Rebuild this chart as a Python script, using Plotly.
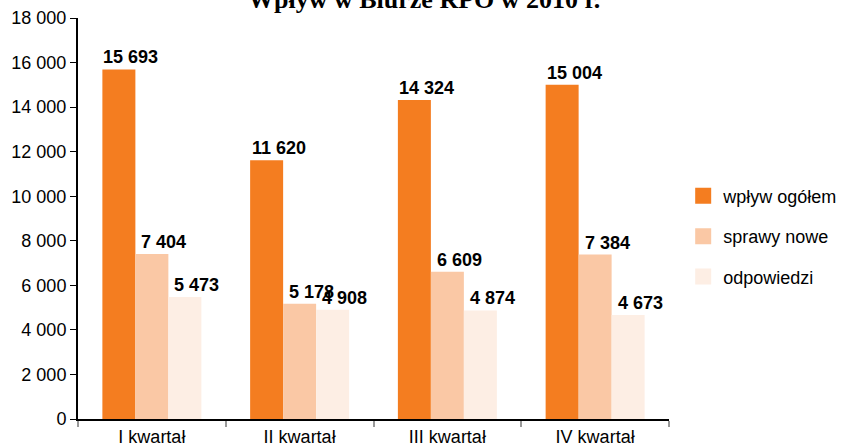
import plotly.graph_objects as go

categories = ["I kwartał", "II kwartał", "III kwartał", "IV kwartał"]
series_names = ["wpływ ogółem", "sprawy nowe", "odpowiedzi"]
wplyw = [15693, 11620, 14324, 15004]
sprawy = [7404, 5178, 6609, 7384]
odpowiedzi = [5473, 4908, 4874, 4673]
colors = ["#F47D20", "#FAC8A5", "#FDEEE4"]
title = "Wpływ w Biurze RPO w 2010 r."

FONT = "Liberation Sans, Arial, sans-serif"

def fmt(v):
    return f"{v:,}".replace(",", " ")

fig = go.Figure()
data = [wplyw, sprawy, odpowiedzi]
for name, vals, col in zip(series_names, data, colors):
    fig.add_trace(go.Bar(x=categories, y=vals, name=name, marker_color=col,
                         marker_line_width=0, showlegend=False))
# legend entries with larger square swatches
for name, col in zip(series_names, colors):
    fig.add_trace(go.Scatter(x=[None], y=[None], mode="markers", name=name,
                             marker=dict(symbol="square", size=16, color=col),
                             legendgroup=name))

shifts = [-21, 12, 45]
for i, vals in enumerate(data):
    for c, v in zip(categories, vals):
        fig.add_annotation(x=c, y=v, text=fmt(v), showarrow=False, xref="x", yref="y",
                           xanchor="center", yanchor="bottom", xshift=shifts[i], yshift=0,
                           font=dict(family=FONT, size=18, color="black", weight="bold"))

fig.add_annotation(text=title, xref="paper", yref="paper", x=(424 - 78) / 591, y=1,
                   xanchor="center", yanchor="bottom", yshift=2, showarrow=False,
                   font=dict(family="Liberation Serif, Times New Roman, serif", size=26,
                             color="black", weight="bold"))

fig.update_layout(
    width=842, height=448,
    margin=dict(l=78, r=173, t=18, b=29, autoexpand=False),
    paper_bgcolor="white", plot_bgcolor="white",
    separators=", ",
    barmode="group", bargap=0.33, bargroupgap=0,
    font=dict(family=FONT, size=18, color="black"),
    legend=dict(x=1.024, xanchor="left", y=0.455, yanchor="middle", tracegroupgap=14,
                font=dict(size=18), itemwidth=30, traceorder="grouped"),
    showlegend=True,
)
fig.update_yaxes(range=[0, 18000], dtick=2000, tickformat=",d", showgrid=False,
                 showline=True, linecolor="black", linewidth=2, ticks="outside", ticklen=6,
                 tickcolor="black", tickwidth=1, zeroline=False, tickfont=dict(size=18),
                 automargin=False)
fig.update_xaxes(showline=True, linecolor="black", linewidth=2, ticks="outside", ticklen=6,
                 tickcolor="#999999", tickwidth=2, tickson="boundaries", showgrid=False,
                 tickfont=dict(size=18), automargin=False)

fig.write_html("out.html", config={"displayModeBar": False},
               post_script="document.body.style.margin='0';")
